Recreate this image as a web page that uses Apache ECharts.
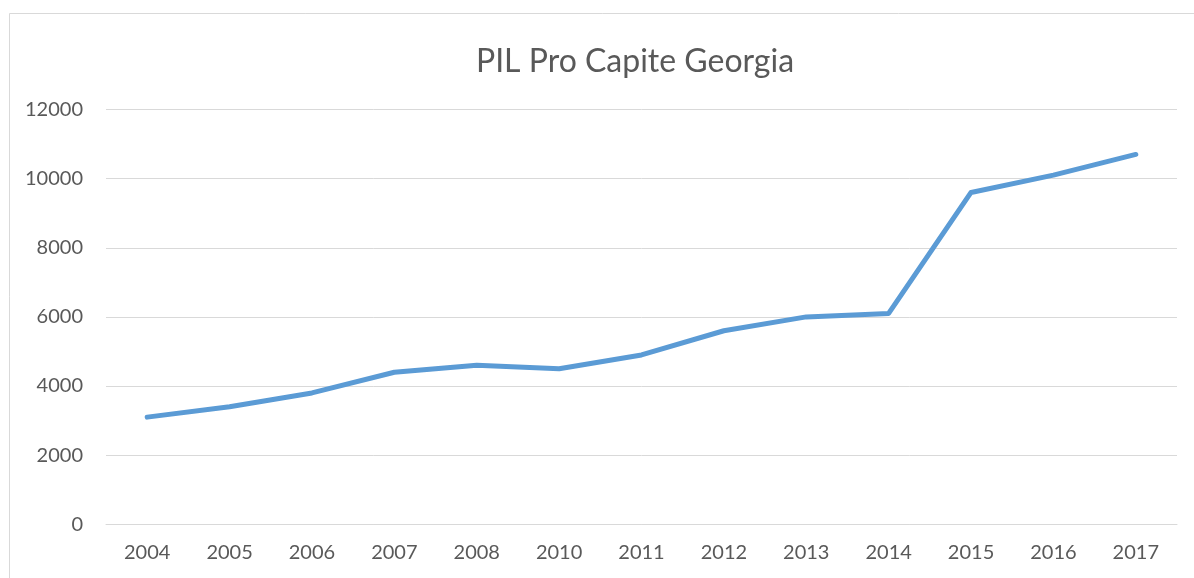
<!DOCTYPE html>
<html><head><meta charset="utf-8">
<script src="https://cdn.jsdelivr.net/npm/echarts@6/dist/echarts.min.js"></script>
<style>html,body{margin:0;padding:0;background:#fff}#c{width:1194px;height:578px}</style>
</head><body><div id="c"></div>
<script>
const titleText = 'PIL Pro Capite Georgia';
const years = ['2004','2005','2006','2007','2008','2010','2011','2012','2013','2014','2015','2016','2017'];
const gdp = [3100,3400,3800,4400,4600,4500,4900,5600,6000,6100,9600,10100,10700];

const chart = echarts.init(document.getElementById('c'));
const font = 'Lato, "Open Sans", sans-serif';
chart.setOption({
  animation: false,
  backgroundColor: '#fff',
  title: {text: titleText, left: 630, textAlign: 'center', top: 41, itemGap: 0,
    textStyle: {fontFamily: font, fontSize: 32, fontWeight: 'normal', color: '#595959'}},
  graphic: [{type: 'rect', left: 7, top: 11, shape: {width: 1300, height: 700},
    style: {fill: 'none', stroke: '#d9d9d9', lineWidth: 1}, silent: true}],
  grid: {left: 106, right: 17, top: 109.5, bottom: 578 - 524.3},
  xAxis: {type: 'category', data: years, boundaryGap: true,
    axisLine: {lineStyle: {color: '#d9d9d9'}}, axisTick: {show: false},
    axisLabel: {fontFamily: font, fontSize: 20, color: '#595959', margin: 18}},
  yAxis: {type: 'value', min: 0, max: 12000, interval: 2000,
    axisLine: {show: false}, axisTick: {show: false},
    splitLine: {lineStyle: {color: '#d9d9d9', width: 1}},
    axisLabel: {fontFamily: font, fontSize: 20, color: '#595959', margin: 23,
      formatter: v => String(v)}},
  series: [{type: 'line', data: gdp, showSymbol: false,
    lineStyle: {color: '#5b9bd5', width: 5, cap: 'round', join: 'round'}}]
});
</script></body></html>
